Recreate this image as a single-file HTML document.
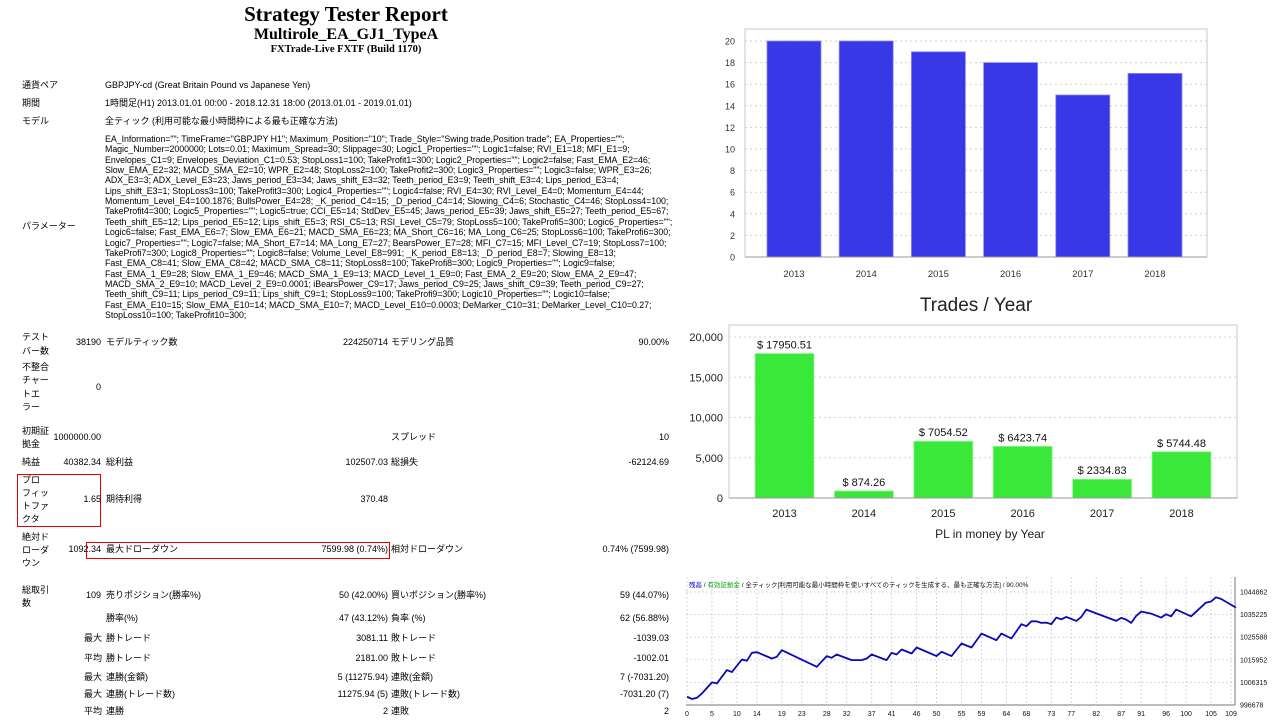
<!DOCTYPE html>
<html><head><meta charset="utf-8">
<style>
body{margin:0;width:1280px;height:720px;background:#fff;position:relative;overflow:hidden;font-family:"Liberation Sans","Noto Sans CJK JP",sans-serif;color:#000}
.a{position:absolute;white-space:nowrap;font-size:9px;line-height:11px}
.r{text-align:right}
.ttl{position:absolute;left:0;width:692px;text-align:center;font-family:"Liberation Serif","Noto Serif CJK SC",serif;font-weight:bold;white-space:nowrap}
.p{position:absolute;left:105px;font-size:8.85px;line-height:10.35px;white-space:nowrap;letter-spacing:-0.05px}
.box{position:absolute;border:1.3px solid #e00000}
svg{position:absolute;left:0;top:0}
</style></head><body>
<div class="ttl" style="top:2px;font-size:21px">Strategy Tester Report</div>
<div class="ttl" style="top:26px;font-size:16px">Multirole_EA_GJ1_TypeA</div>
<div class="ttl" style="top:44px;font-size:10.5px">FXTrade-Live FXTF (Build 1170)</div>

<div class="a" style="left:22px;top:80px">通貨ペア</div>
<div class="a" style="left:105px;top:80px">GBPJPY-cd (Great Britain Pound vs Japanese Yen)</div>
<div class="a" style="left:22px;top:98px">期間</div>
<div class="a" style="left:105px;top:98px">1時間足(H1) 2013.01.01 00:00 - 2018.12.31 18:00 (2013.01.01 - 2019.01.01)</div>
<div class="a" style="left:22px;top:116px">モデル</div>
<div class="a" style="left:105px;top:116px">全ティック (利用可能な最小時間枠による最も正確な方法)</div>
<div class="a" style="left:22px;top:221px">パラメーター</div>
<div>
<div class="p" style="top:134px">EA_Information=""; TimeFrame="GBPJPY H1"; Maximum_Position="10"; Trade_Style="Swing trade,Position trade"; EA_Properties="";</div>
<div class="p" style="top:144.35px">Magic_Number=2000000; Lots=0.01; Maximum_Spread=30; Slippage=30; Logic1_Properties=""; Logic1=false; RVI_E1=18; MFI_E1=9;</div>
<div class="p" style="top:154.7px">Envelopes_C1=9; Envelopes_Deviation_C1=0.53; StopLoss1=100; TakeProfit1=300; Logic2_Properties=""; Logic2=false; Fast_EMA_E2=46;</div>
<div class="p" style="top:165.05px">Slow_EMA_E2=32; MACD_SMA_E2=10; WPR_E2=48; StopLoss2=100; TakeProfit2=300; Logic3_Properties=""; Logic3=false; WPR_E3=26;</div>
<div class="p" style="top:175.4px">ADX_E3=3; ADX_Level_E3=23; Jaws_period_E3=34; Jaws_shift_E3=32; Teeth_period_E3=9; Teeth_shift_E3=4; Lips_period_E3=4;</div>
<div class="p" style="top:185.75px">Lips_shift_E3=1; StopLoss3=100; TakeProfit3=300; Logic4_Properties=""; Logic4=false; RVI_E4=30; RVI_Level_E4=0; Momentum_E4=44;</div>
<div class="p" style="top:196.1px">Momentum_Level_E4=100.1876; BullsPower_E4=28; _K_period_C4=15; _D_period_C4=14; Slowing_C4=6; Stochastic_C4=46; StopLoss4=100;</div>
<div class="p" style="top:206.45px">TakeProfit4=300; Logic5_Properties=""; Logic5=true; CCI_E5=14; StdDev_E5=45; Jaws_period_E5=39; Jaws_shift_E5=27; Teeth_period_E5=67;</div>
<div class="p" style="top:216.8px">Teeth_shift_E5=12; Lips_period_E5=12; Lips_shift_E5=3; RSI_C5=13; RSI_Level_C5=79; StopLoss5=100; TakeProfi5=300; Logic6_Properties="";</div>
<div class="p" style="top:227.15px">Logic6=false; Fast_EMA_E6=7; Slow_EMA_E6=21; MACD_SMA_E6=23; MA_Short_C6=16; MA_Long_C6=25; StopLoss6=100; TakeProfi6=300;</div>
<div class="p" style="top:237.5px">Logic7_Properties=""; Logic7=false; MA_Short_E7=14; MA_Long_E7=27; BearsPower_E7=28; MFI_C7=15; MFI_Level_C7=19; StopLoss7=100;</div>
<div class="p" style="top:247.85px">TakeProfi7=300; Logic8_Properties=""; Logic8=false; Volume_Level_E8=991; _K_period_E8=13; _D_period_E8=7; Slowing_E8=13;</div>
<div class="p" style="top:258.2px">Fast_EMA_C8=41; Slow_EMA_C8=42; MACD_SMA_C8=11; StopLoss8=100; TakeProfi8=300; Logic9_Properties=""; Logic9=false;</div>
<div class="p" style="top:268.55px">Fast_EMA_1_E9=28; Slow_EMA_1_E9=46; MACD_SMA_1_E9=13; MACD_Level_1_E9=0; Fast_EMA_2_E9=20; Slow_EMA_2_E9=47;</div>
<div class="p" style="top:278.9px">MACD_SMA_2_E9=10; MACD_Level_2_E9=0.0001; iBearsPower_C9=17; Jaws_period_C9=25; Jaws_shift_C9=39; Teeth_period_C9=27;</div>
<div class="p" style="top:289.25px">Teeth_shift_C9=11; Lips_period_C9=11; Lips_shift_C9=1; StopLoss9=100; TakeProfi9=300; Logic10_Properties=""; Logic10=false;</div>
<div class="p" style="top:299.6px">Fast_EMA_E10=15; Slow_EMA_E10=14; MACD_SMA_E10=7; MACD_Level_E10=0.0003; DeMarker_C10=31; DeMarker_Level_C10=0.27;</div>
<div class="p" style="top:309.95px">StopLoss10=100; TakeProfit10=300;</div>
</div>

<!-- stats table -->
<div class="a" style="left:22px;top:330px;line-height:14px">テスト<br>バー数</div>
<div class="a r" style="right:1179px;top:337px">38190</div>
<div class="a" style="left:106px;top:337px">モデルティック数</div>
<div class="a r" style="right:892px;top:337px">224250714</div>
<div class="a" style="left:391px;top:337px">モデリング品質</div>
<div class="a r" style="right:611px;top:337px">90.00%</div>

<div class="a" style="left:22px;top:361px;line-height:13.3px">不整合<br>チャー<br>トエ<br>ラー</div>
<div class="a r" style="right:1179px;top:382px">0</div>

<div class="a" style="left:22px;top:425px;line-height:13px">初期証<br>拠金</div>
<div class="a r" style="right:1179px;top:432px">1000000.00</div>
<div class="a" style="left:391px;top:432px">スプレッド</div>
<div class="a r" style="right:611px;top:432px">10</div>

<div class="a" style="left:22px;top:457px">純益</div>
<div class="a r" style="right:1179px;top:457px">40382.34</div>
<div class="a" style="left:106px;top:457px">総利益</div>
<div class="a r" style="right:892px;top:457px">102507.03</div>
<div class="a" style="left:391px;top:457px">総損失</div>
<div class="a r" style="right:611px;top:457px">-62124.69</div>

<div class="box" style="left:17px;top:474px;width:82px;height:51px"></div>
<div class="a" style="left:22px;top:474px;line-height:13px">プロ<br>フィッ<br>トファ<br>クタ</div>
<div class="a r" style="right:1179px;top:494px">1.65</div>
<div class="a" style="left:106px;top:494px">期待利得</div>
<div class="a r" style="right:892px;top:494px">370.48</div>

<div class="a" style="left:22px;top:531px;line-height:13px">絶対ド<br>ローダ<br>ウン</div>
<div class="a r" style="right:1179px;top:544px">1092.34</div>
<div class="box" style="left:86px;top:542px;width:302px;height:15px"></div>
<div class="a" style="left:106px;top:544px">最大ドローダウン</div>
<div class="a r" style="right:892px;top:544px">7599.98 (0.74%)</div>
<div class="a" style="left:391px;top:544px">相対ドローダウン</div>
<div class="a r" style="right:611px;top:544px">0.74% (7599.98)</div>

<div class="a" style="left:22px;top:584px;line-height:13px">総取引<br>数</div>
<div class="a r" style="right:1179px;top:590px">109</div>
<div class="a" style="left:106px;top:590px">売りポジション(勝率%)</div>
<div class="a r" style="right:892px;top:590px">50 (42.00%)</div>
<div class="a" style="left:391px;top:590px">買いポジション(勝率%)</div>
<div class="a r" style="right:611px;top:590px">59 (44.07%)</div>

<div class="a" style="left:106px;top:613px">勝率(%)</div>
<div class="a r" style="right:892px;top:613px">47 (43.12%)</div>
<div class="a" style="left:391px;top:613px">負率 (%)</div>
<div class="a r" style="right:611px;top:613px">62 (56.88%)</div>

<div class="a" style="left:84px;top:633px">最大</div>
<div class="a" style="left:106px;top:633px">勝トレード</div>
<div class="a r" style="right:892px;top:633px">3081.11</div>
<div class="a" style="left:391px;top:633px">敗トレード</div>
<div class="a r" style="right:611px;top:633px">-1039.03</div>

<div class="a" style="left:84px;top:653px">平均</div>
<div class="a" style="left:106px;top:653px">勝トレード</div>
<div class="a r" style="right:892px;top:653px">2181.00</div>
<div class="a" style="left:391px;top:653px">敗トレード</div>
<div class="a r" style="right:611px;top:653px">-1002.01</div>

<div class="a" style="left:84px;top:672px">最大</div>
<div class="a" style="left:106px;top:672px">連勝(金額)</div>
<div class="a r" style="right:892px;top:672px">5 (11275.94)</div>
<div class="a" style="left:391px;top:672px">連敗(金額)</div>
<div class="a r" style="right:611px;top:672px">7 (-7031.20)</div>

<div class="a" style="left:84px;top:689px">最大</div>
<div class="a" style="left:106px;top:689px">連勝(トレード数)</div>
<div class="a r" style="right:892px;top:689px">11275.94 (5)</div>
<div class="a" style="left:391px;top:689px">連敗(トレード数)</div>
<div class="a r" style="right:611px;top:689px">-7031.20 (7)</div>

<div class="a" style="left:84px;top:706px">平均</div>
<div class="a" style="left:106px;top:706px">連勝</div>
<div class="a r" style="right:892px;top:706px">2</div>
<div class="a" style="left:391px;top:706px">連敗</div>
<div class="a r" style="right:611px;top:706px">2</div>

<svg id="charts" width="1280" height="720" font-family="Liberation Sans, sans-serif"></svg>

<script>
// Trades per year
const tradeYears = ["2013","2014","2015","2016","2017","2018"];
const tradeCounts = [20, 20, 19, 18, 15, 17];
const tradeTicks = [0,2,4,6,8,10,12,14,16,18,20];
// PL per year
const plYears = ["2013","2014","2015","2016","2017","2018"];
const plValues = [17950.51, 874.26, 7054.52, 6423.74, 2334.83, 5744.48];
const plTicks = [0, 5000, 10000, 15000, 20000];
// Equity curve (vertices)
const eqTrade = [0,1,2,3,5,6,8,9,11,12,13,14,17,18,19,26,28,29,30,33,35,36,37,40,41,42,43,45,46,50,51,53,55,57,59,62,63,65,67,68,69,70,71,72,73,74,75,76,78,79,80,86,87,88,89,90,91,93,95,96,97,98,101,104,105,106,107,110];
const eqBalance = [1000221,999229,999795,1001638,1006314,1005889,1011557,1010707,1016091,1015525,1018926,1019209,1016516,1017225,1020059,1012973,1017508,1016799,1018216,1015807,1015807,1016516,1018216,1015807,1018926,1018216,1020342,1018642,1021192,1017508,1019350,1017508,1022893,1021192,1027144,1024310,1027144,1025018,1031111,1030261,1032386,1032386,1031678,1031820,1031111,1033945,1033237,1034229,1032528,1034229,1037346,1032528,1033804,1033095,1031678,1034654,1036496,1035646,1033945,1035362,1034512,1037346,1034512,1040347,1040773,1042615,1041906,1038222];
const eqXTicks = [0,5,10,14,19,23,28,32,37,41,46,50,55,59,64,68,73,77,82,87,91,96,100,105,109];
const eqYTicks = [996678,1006315,1015952,1025588,1035225,1044862];

const NS="http://www.w3.org/2000/svg";
const svg=document.getElementById('charts');
function mk(tag,attrs,parent){const e=document.createElementNS(NS,tag);for(const k in attrs)e.setAttribute(k,attrs[k]);(parent||svg).appendChild(e);return e;}
function txt(x,y,s,attrs){const e=mk('text',Object.assign({x:x,y:y},attrs||{}));e.textContent=s;return e;}

// ---- chart 1 ----
(function(){
  const L=745,R=1207,T=29,B=257;
  const y=v=>B-(v/20)*(B-41);
  const x0=i=>767+i*72.2;
  const g=mk('g',{});
  
  
  const frame=mk('rect',{x:L,y:T,width:R-L,height:B-T,fill:'#fff',stroke:'#c8c8c8','stroke-width':1},g);
  
  
  tradeTicks.forEach(t=>{
    const gl=mk('line',{x1:L,x2:R,y1:y(t),y2:y(t),stroke:'#cfcfcf','stroke-dasharray':'2,3'},g);
    
    
    const tl=txt(735,y(t)+3.5,String(t),{'font-size':9,'text-anchor':'end',fill:'#333'});
    
    
  });
  tradeCounts.forEach((v,i)=>{
    const b=mk('rect',{x:x0(i),y:y(v),width:54,height:B-y(v),fill:'#3838e6',stroke:'#8a8af5','stroke-width':0.8},g);
    
    
    const l=txt(x0(i)+27,277,tradeYears[i],{'font-size':9.5,'text-anchor':'middle',fill:'#333'});
    
    
  });
  mk('line',{x1:L,x2:R,y1:B,y2:B,stroke:'#999'},g);
  const t=txt(976,311,'Trades / Year',{'font-size':19,'text-anchor':'middle',fill:'#222'});
  
  
})();

// ---- chart 2 ----
(function(){
  const L=729,R=1237,T=325,B=498;
  const y=v=>B-(v/20000)*(B-337);
  const x0=i=>755+i*79.4;
  const g=mk('g',{});
  
  
  const frame=mk('rect',{x:L,y:T,width:R-L,height:B-T,fill:'#fff',stroke:'#c8c8c8'},g);
  
  
  plTicks.forEach(t=>{
    if(t>0){const gl=mk('line',{x1:L,x2:R,y1:y(t),y2:y(t),stroke:'#d4d4d4','stroke-dasharray':'2,3'},g);
    
    }
    const tl=txt(723,y(t)+4,t.toLocaleString('en-US'),{'font-size':11,'text-anchor':'end',fill:'#222'});
    
    
  });
  plValues.forEach((v,i)=>{
    const b=mk('rect',{x:x0(i),y:y(v),width:59,height:B-y(v),fill:'#3ae83a',stroke:'#9af59a','stroke-width':0.8},g);
    
    
    const vl=txt(x0(i)+29.5,y(v)-5,'$ '+v.toFixed(2),{'font-size':11,'text-anchor':'middle',fill:'#111'});
    
    
    const l=txt(x0(i)+29.5,517,plYears[i],{'font-size':11,'text-anchor':'middle',fill:'#222'});
    
    
  });
  mk('line',{x1:L,x2:R,y1:B,y2:B,stroke:'#999'},g);
  const t=txt(990,538,'PL in money by Year',{'font-size':12,'text-anchor':'middle',fill:'#222'});
  
  
})();

// ---- chart 3 ----
(function(){
  const L=686,R=1235,T=577,B=705;
  const x=i=>687+i*(544/109);
  const y=v=>B-(v-996678)/(1044862-996678)*(B-592);
  const g=mk('g',{});
  
  
  eqXTicks.forEach(t=>{
    const gl=mk('line',{x1:x(t),x2:x(t),y1:T,y2:B,stroke:'#c8c8c8','stroke-dasharray':'1.5,2.5'},g);
    
    
    const l=txt(x(t),716,String(t),{'font-size':7,'text-anchor':'middle',fill:'#111'});
    
    
  });
  eqYTicks.forEach(t=>{
    const gl=mk('line',{x1:L,x2:R,y1:y(t),y2:y(t),stroke:'#c8c8c8','stroke-dasharray':'1.5,2.5'},g);
    
    
    const l=txt(1240,y(t)+2.5,String(t),{'font-size':7,fill:'#111'});
    
    
  });
  mk('line',{x1:L,x2:R,y1:B,y2:B,stroke:'#777'},g);
  mk('line',{x1:R,x2:R,y1:T,y2:B,stroke:'#777'},g);
  const pts=eqTrade.map((t,i)=>x(t).toFixed(1)+','+y(eqBalance[i]).toFixed(1)).join(' ');
  const pl=mk('polyline',{points:pts,fill:'none',stroke:'#0a0ab4','stroke-width':1.8,'stroke-linejoin':'round'},g);
  
  
  const h=mk('text',{x:689,y:587,'font-size':6.5,'font-family':'Liberation Sans, Noto Sans CJK JP, sans-serif'},g);
  
  
  const s1=mk('tspan',{fill:'#0000cc'},h);s1.textContent='残高';
  const s2=mk('tspan',{fill:'#111'},h);s2.textContent=' / ';
  const s3=mk('tspan',{fill:'#00a000'},h);s3.textContent='有効証拠金';
  const s4=mk('tspan',{fill:'#111'},h);s4.textContent=' / 全ティック[利用可能な最小時間枠を使いすべてのティックを生成する、最も正確な方法] / 90.00%';
})();
</script>
</body></html>
